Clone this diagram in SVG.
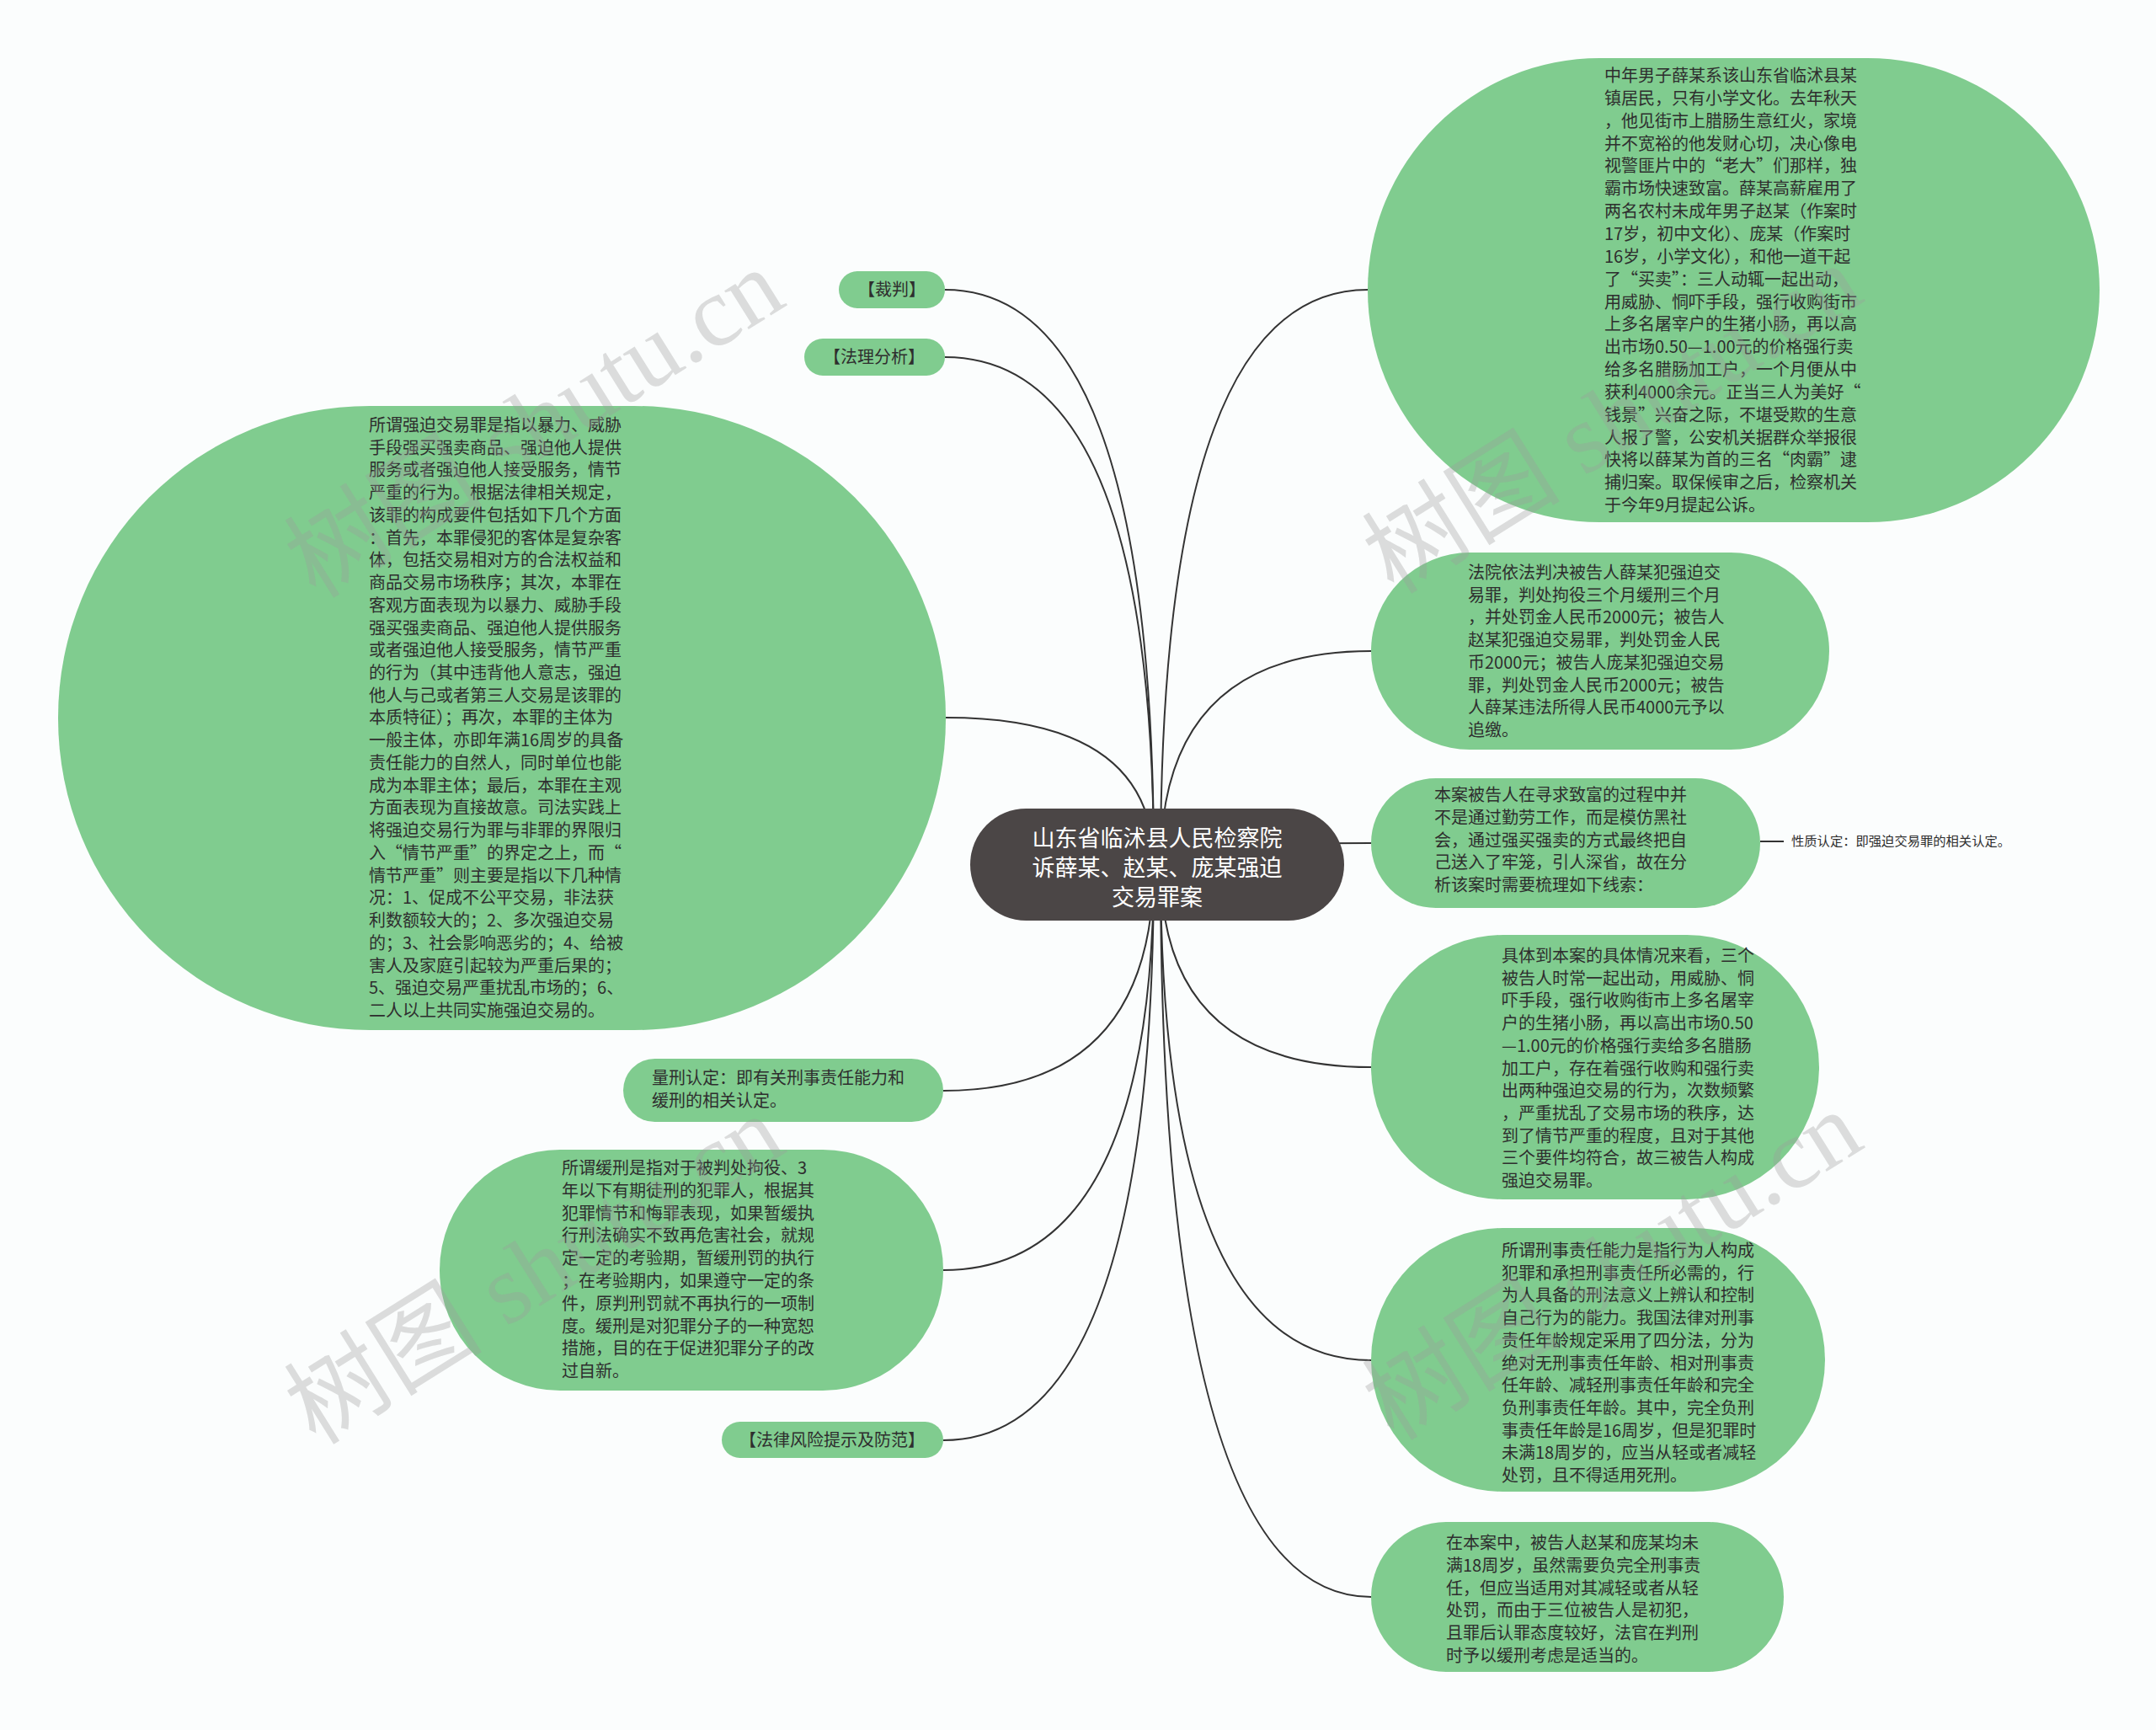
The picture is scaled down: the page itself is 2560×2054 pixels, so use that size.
<svg xmlns="http://www.w3.org/2000/svg" width="2560" height="2054" viewBox="0 0 2560 2054">
<style>
.bg{fill:#fbfdfd}
.n{fill:#80cc8f}
.root{fill:#4b4646}
.t{font-family:"Noto Sans CJK SC","Liberation Sans",sans-serif;font-size:20px;fill:#2e2e2e}
.tr{font-family:"Noto Sans CJK SC","Liberation Sans",sans-serif;font-size:27px;fill:#ffffff;text-anchor:middle}
.ts{font-family:"Noto Sans CJK SC","Liberation Sans",sans-serif;font-size:15.3px;fill:#2e2e2e}
.c{fill:none;stroke:#333333;stroke-width:2}
.wm{font-family:"Liberation Serif","Noto Sans CJK SC",serif;font-size:118px;fill:#9a9a9a;fill-opacity:0.33}
</style>
<rect class="bg" x="0" y="0" width="2560" height="2054"/>
<g id="connectors">
<path class="c" d="M1370 1026 Q1370 344 1122 344"/>
<path class="c" d="M1370 1026 Q1370 424 1122 424"/>
<path class="c" d="M1370 1026 Q1370 852 1123 852"/>
<path class="c" d="M1370 1026 Q1370 1295 1120 1295"/>
<path class="c" d="M1370 1026 Q1370 1508 1120 1508"/>
<path class="c" d="M1370 1026 Q1370 1710 1120 1710"/>
<path class="c" d="M1378 1026 Q1378 344 1624 344"/>
<path class="c" d="M1378 1026 Q1378 773 1628 773"/>
<path class="c" d="M1378 1026 Q1378 1001 1628 1001"/>
<path class="c" d="M1378 1026 Q1378 1267 1628 1267"/>
<path class="c" d="M1378 1026 Q1378 1615 1628 1615"/>
<path class="c" d="M1378 1026 Q1378 1896 1628 1896"/>
<path class="c" d="M2090 999 L2118 999"/>
</g>
<g id="root">
<rect class="root" x="1152" y="960" width="444" height="133" rx="66.5"/>
<text class="tr"><tspan x="1374" y="1005">山东省临沭县人民检察院</tspan><tspan x="1374" y="1040">诉薛某、赵某、庞某强迫</tspan><tspan x="1374" y="1075">交易罪案</tspan></text>
</g>
<g id="n-caipan">
<rect class="n" x="996" y="322" width="126" height="44" rx="22"/>
<text class="t" x="1059" y="351" text-anchor="middle">【裁判】</text>
</g>
<g id="n-fali">
<rect class="n" x="955" y="402" width="167" height="44" rx="22"/>
<text class="t" x="1038" y="431" text-anchor="middle">【法理分析】</text>
</g>
<g id="n-define">
<rect class="n" x="69" y="482" width="1054" height="741" rx="370"/>
<text class="t"><tspan x="438" y="512">所谓强迫交易罪是指以暴力、威胁</tspan><tspan x="438" dy="26.73">手段强买强卖商品、强迫他人提供</tspan><tspan x="438" dy="26.73">服务或者强迫他人接受服务，情节</tspan><tspan x="438" dy="26.73">严重的行为。根据法律相关规定，</tspan><tspan x="438" dy="26.73">该罪的构成要件包括如下几个方面</tspan><tspan x="438" dy="26.73">：首先，本罪侵犯的客体是复杂客</tspan><tspan x="438" dy="26.73">体，包括交易相对方的合法权益和</tspan><tspan x="438" dy="26.73">商品交易市场秩序；其次，本罪在</tspan><tspan x="438" dy="26.73">客观方面表现为以暴力、威胁手段</tspan><tspan x="438" dy="26.73">强买强卖商品、强迫他人提供服务</tspan><tspan x="438" dy="26.73">或者强迫他人接受服务，情节严重</tspan><tspan x="438" dy="26.73">的行为（其中违背他人意志，强迫</tspan><tspan x="438" dy="26.73">他人与己或者第三人交易是该罪的</tspan><tspan x="438" dy="26.73">本质特征）；再次，本罪的主体为</tspan><tspan x="438" dy="26.73">一般主体，亦即年满16周岁的具备</tspan><tspan x="438" dy="26.73">责任能力的自然人，同时单位也能</tspan><tspan x="438" dy="26.73">成为本罪主体；最后，本罪在主观</tspan><tspan x="438" dy="26.73">方面表现为直接故意。司法实践上</tspan><tspan x="438" dy="26.73">将强迫交易行为罪与非罪的界限归</tspan><tspan x="438" dy="26.73">入“情节严重”的界定之上，而“</tspan><tspan x="438" dy="26.73">情节严重”则主要是指以下几种情</tspan><tspan x="438" dy="26.73">况：1、促成不公平交易，非法获</tspan><tspan x="438" dy="26.73">利数额较大的；2、多次强迫交易</tspan><tspan x="438" dy="26.73">的；3、社会影响恶劣的；4、给被</tspan><tspan x="438" dy="26.73">害人及家庭引起较为严重后果的；</tspan><tspan x="438" dy="26.73">5、强迫交易严重扰乱市场的；6、</tspan><tspan x="438" dy="26.73">二人以上共同实施强迫交易的。</tspan></text>
</g>
<g id="n-liangxing">
<rect class="n" x="740" y="1257" width="380" height="75" rx="37.5"/>
<text class="t"><tspan x="774" y="1287">量刑认定：即有关刑事责任能力和</tspan><tspan x="774" dy="27">缓刑的相关认定。</tspan></text>
</g>
<g id="n-huanxing">
<rect class="n" x="522" y="1365" width="598" height="286" rx="143"/>
<text class="t"><tspan x="667" y="1394">所谓缓刑是指对于被判处拘役、3</tspan><tspan x="667" dy="26.8">年以下有期徒刑的犯罪人，根据其</tspan><tspan x="667" dy="26.8">犯罪情节和悔罪表现，如果暂缓执</tspan><tspan x="667" dy="26.8">行刑法确实不致再危害社会，就规</tspan><tspan x="667" dy="26.8">定一定的考验期，暂缓刑罚的执行</tspan><tspan x="667" dy="26.8">；在考验期内，如果遵守一定的条</tspan><tspan x="667" dy="26.8">件，原判刑罚就不再执行的一项制</tspan><tspan x="667" dy="26.8">度。缓刑是对犯罪分子的一种宽恕</tspan><tspan x="667" dy="26.8">措施，目的在于促进犯罪分子的改</tspan><tspan x="667" dy="26.8">过自新。</tspan></text>
</g>
<g id="n-fengxian">
<rect class="n" x="857" y="1688" width="263" height="43" rx="21.5"/>
<text class="t" x="988" y="1717" text-anchor="middle">【法律风险提示及防范】</text>
</g>
<g id="n-case">
<rect class="n" x="1624" y="69" width="869" height="551" rx="275.5"/>
<text class="t"><tspan x="1905" y="97">中年男子薛某系该山东省临沭县某</tspan><tspan x="1905" dy="26.85">镇居民，只有小学文化。去年秋天</tspan><tspan x="1905" dy="26.85">，他见街市上腊肠生意红火，家境</tspan><tspan x="1905" dy="26.85">并不宽裕的他发财心切，决心像电</tspan><tspan x="1905" dy="26.85">视警匪片中的“老大”们那样，独</tspan><tspan x="1905" dy="26.85">霸市场快速致富。薛某高薪雇用了</tspan><tspan x="1905" dy="26.85">两名农村未成年男子赵某（作案时</tspan><tspan x="1905" dy="26.85">17岁，初中文化）、庞某（作案时</tspan><tspan x="1905" dy="26.85">16岁，小学文化），和他一道干起</tspan><tspan x="1905" dy="26.85">了“买卖”：三人动辄一起出动，</tspan><tspan x="1905" dy="26.85">用威胁、恫吓手段，强行收购街市</tspan><tspan x="1905" dy="26.85">上多名屠宰户的生猪小肠，再以高</tspan><tspan x="1905" dy="26.85">出市场0.50—1.00元的价格强行卖</tspan><tspan x="1905" dy="26.85">给多名腊肠加工户，一个月便从中</tspan><tspan x="1905" dy="26.85">获利4000余元。正当三人为美好“</tspan><tspan x="1905" dy="26.85">钱景”兴奋之际，不堪受欺的生意</tspan><tspan x="1905" dy="26.85">人报了警，公安机关据群众举报很</tspan><tspan x="1905" dy="26.85">快将以薛某为首的三名“肉霸”逮</tspan><tspan x="1905" dy="26.85">捕归案。取保候审之后，检察机关</tspan><tspan x="1905" dy="26.85">于今年9月提起公诉。</tspan></text>
</g>
<g id="n-verdict">
<rect class="n" x="1628" y="656" width="544" height="234" rx="117"/>
<text class="t"><tspan x="1743" y="687">法院依法判决被告人薛某犯强迫交</tspan><tspan x="1743" dy="26.7">易罪，判处拘役三个月缓刑三个月</tspan><tspan x="1743" dy="26.7">，并处罚金人民币2000元；被告人</tspan><tspan x="1743" dy="26.7">赵某犯强迫交易罪，判处罚金人民</tspan><tspan x="1743" dy="26.7">币2000元；被告人庞某犯强迫交易</tspan><tspan x="1743" dy="26.7">罪，判处罚金人民币2000元；被告</tspan><tspan x="1743" dy="26.7">人薛某违法所得人民币4000元予以</tspan><tspan x="1743" dy="26.7">追缴。</tspan></text>
</g>
<g id="n-analysis">
<rect class="n" x="1628" y="924" width="462" height="154" rx="77"/>
<text class="t"><tspan x="1703" y="951">本案被告人在寻求致富的过程中并</tspan><tspan x="1703" dy="26.8">不是通过勤劳工作，而是模仿黑社</tspan><tspan x="1703" dy="26.8">会，通过强买强卖的方式最终把自</tspan><tspan x="1703" dy="26.8">己送入了牢笼，引人深省，故在分</tspan><tspan x="1703" dy="26.8">析该案时需要梳理如下线索：</tspan></text>
</g>
<g id="n-nature">
<text class="ts" x="2127" y="1004">性质认定：即强迫交易罪的相关认定。</text>
</g>
<g id="n-specific">
<rect class="n" x="1628" y="1110" width="532" height="314" rx="157"/>
<text class="t"><tspan x="1783" y="1142">具体到本案的具体情况来看，三个</tspan><tspan x="1783" dy="26.7">被告人时常一起出动，用威胁、恫</tspan><tspan x="1783" dy="26.7">吓手段，强行收购街市上多名屠宰</tspan><tspan x="1783" dy="26.7">户的生猪小肠，再以高出市场0.50</tspan><tspan x="1783" dy="26.7">—1.00元的价格强行卖给多名腊肠</tspan><tspan x="1783" dy="26.7">加工户，存在着强行收购和强行卖</tspan><tspan x="1783" dy="26.7">出两种强迫交易的行为，次数频繁</tspan><tspan x="1783" dy="26.7">，严重扰乱了交易市场的秩序，达</tspan><tspan x="1783" dy="26.7">到了情节严重的程度，且对于其他</tspan><tspan x="1783" dy="26.7">三个要件均符合，故三被告人构成</tspan><tspan x="1783" dy="26.7">强迫交易罪。</tspan></text>
</g>
<g id="n-capacity">
<rect class="n" x="1628" y="1458" width="539" height="313" rx="156.5"/>
<text class="t"><tspan x="1783" y="1492">所谓刑事责任能力是指行为人构成</tspan><tspan x="1783" dy="26.7">犯罪和承担刑事责任所必需的，行</tspan><tspan x="1783" dy="26.7">为人具备的刑法意义上辨认和控制</tspan><tspan x="1783" dy="26.7">自己行为的能力。我国法律对刑事</tspan><tspan x="1783" dy="26.7">责任年龄规定采用了四分法，分为</tspan><tspan x="1783" dy="26.7">绝对无刑事责任年龄、相对刑事责</tspan><tspan x="1783" dy="26.7">任年龄、减轻刑事责任年龄和完全</tspan><tspan x="1783" dy="26.7">负刑事责任年龄。其中，完全负刑</tspan><tspan x="1783" dy="26.7">事责任年龄是16周岁，但是犯罪时</tspan><tspan x="1783" dy="26.7">未满18周岁的，应当从轻或者减轻</tspan><tspan x="1783" dy="26.7">处罚，且不得适用死刑。</tspan></text>
</g>
<g id="n-minor">
<rect class="n" x="1628" y="1807" width="490" height="178" rx="89"/>
<text class="t"><tspan x="1717" y="1839">在本案中，被告人赵某和庞某均未</tspan><tspan x="1717" dy="26.8">满18周岁，虽然需要负完全刑事责</tspan><tspan x="1717" dy="26.8">任，但应当适用对其减轻或者从轻</tspan><tspan x="1717" dy="26.8">处罚，而由于三位被告人是初犯，</tspan><tspan x="1717" dy="26.8">且罪后认罪态度较好，法官在判刑</tspan><tspan x="1717" dy="26.8">时予以缓刑考虑是适当的。</tspan></text>
</g>
<g id="watermarks">
<text class="wm" x="375" y="712" transform="rotate(-32 375 712)">树图 shutu.cn</text>
<text class="wm" x="1655" y="707" transform="rotate(-32 1655 707)">树图 shutu.cn</text>
<text class="wm" x="375" y="1717" transform="rotate(-32 375 1717)">树图 shutu.cn</text>
<text class="wm" x="1655" y="1712" transform="rotate(-32 1655 1712)">树图 shutu.cn</text>
</g>
</svg>
